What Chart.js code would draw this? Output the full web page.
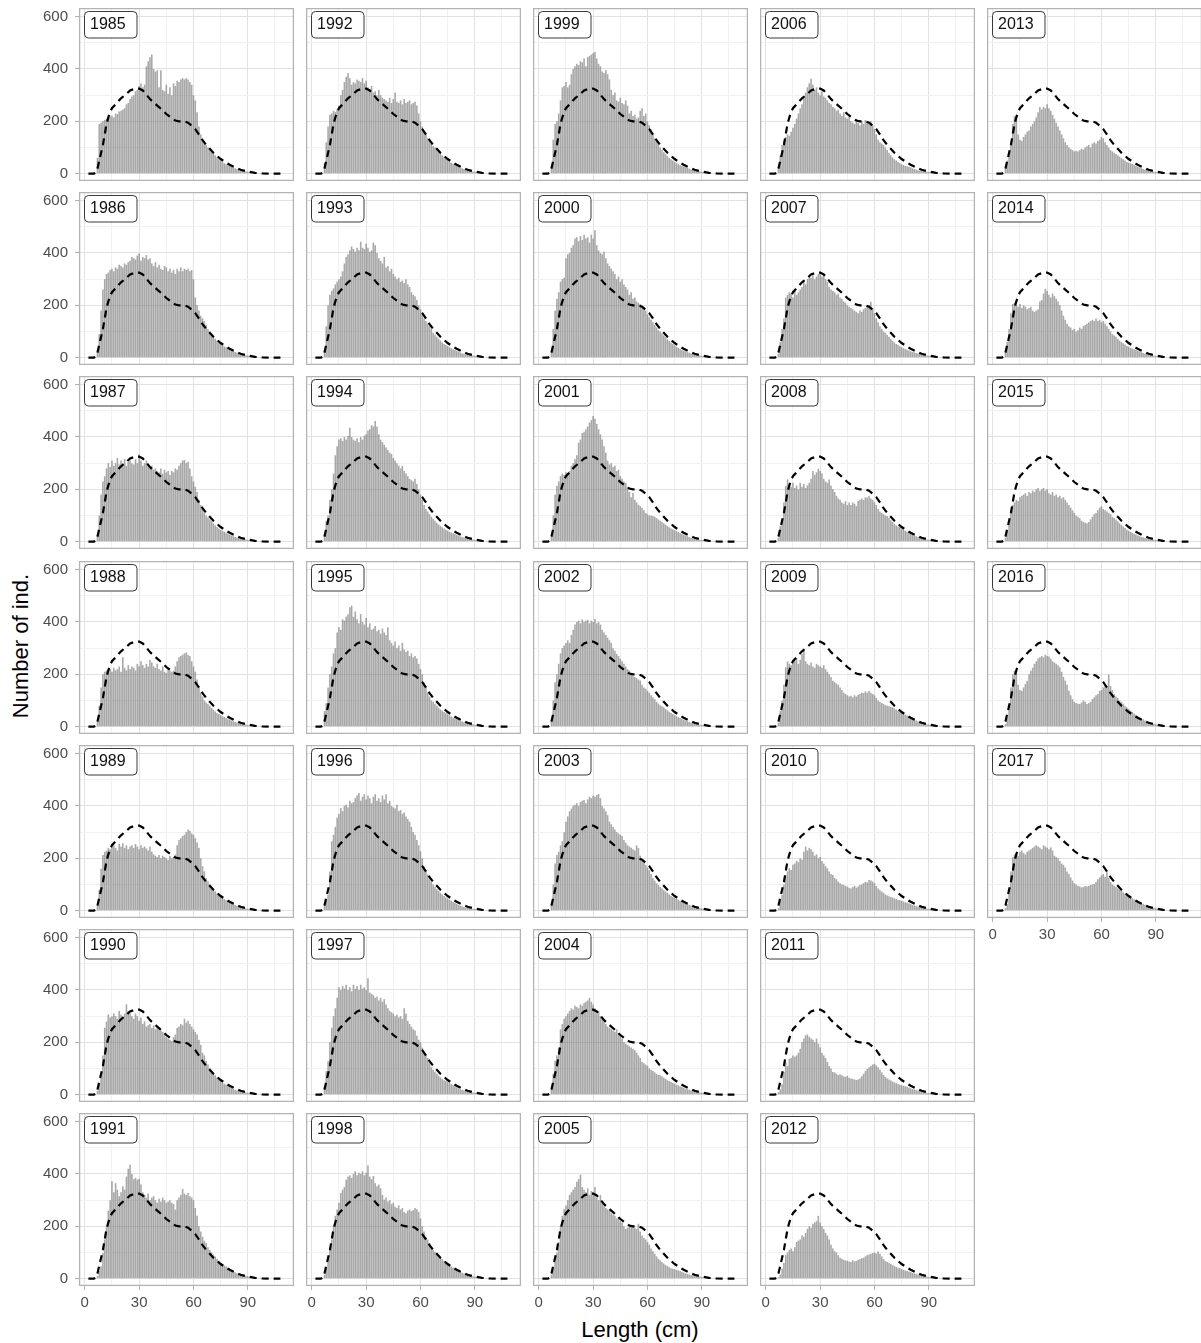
<!DOCTYPE html>
<html>
<head>
<meta charset="utf-8">
<script src="https://cdn.jsdelivr.net/npm/chart.js@4.4.1/dist/chart.umd.min.js"></script>
<style>
  body { margin: 0; background: #fff; }
  #page { position: relative; width: 1201px; height: 1343px; overflow: hidden; font-family: "Liberation Sans", Arial, sans-serif; }
  .panel { position: absolute; }
  .axis-title { position: absolute; color: #000; font-size: 22px; white-space: nowrap; transform: translate(-50%, -50%); }
  #ytitle { left: 21px; top: 646px; transform: translate(-50%, -50%) rotate(-90deg); }
  #xtitle { left: 640px; top: 1330px; }
</style>
</head>
<body>
<div id="page">
  <div id="ytitle" class="axis-title">Number of ind.</div>
  <div id="xtitle" class="axis-title">Length (cm)</div>
</div>
<script>
// ---- data -------------------------------------------------------------
// length bins (cm), one bar per cm
const binLength = [
  7,8,9,10,11,12,13,14,15,16,17,18,19,20,21,22,23,24,25,26,
  27,28,29,30,31,32,33,34,35,36,37,38,39,40,41,42,43,44,45,46,
  47,48,49,50,51,52,53,54,55,56,57,58,59,60,61,62,63,64,65,66,
  67,68,69,70,71,72,73,74,75,76,77,78,79,80,81,82,83,84,85,86,
  87,88,89,90,91,92,93,94,95,96,97,98,99,100
];

// reference distribution (dashed line), same in every panel
const refLength = [2,5,6,7,8,9,10,11,12,13,14,15,17,20,23,25,28,30,32,34,36,38,40,43,45,48,50,52,55,57,59,61,63,65,67,69,71,73,75,78,80,83,86,90,94,98,102,108];
const refCount  = [0,0,3,20,50,80,110,150,190,215,235,250,265,288,305,318,325,325,318,302,285,272,260,242,228,212,203,200,200,195,183,170,150,128,110,95,80,68,56,42,34,24,15,8,3,1,0,0];

const n1985 = [60,190,195,200,205,210,215,218,222,215, 230,228,238,240,245,250,265,270,285,295,
  300,315,320,335,345,330,340,410,430,445, 455,400,390,395,330,395,320,315,340,305,
  330,300,345,335,355,350,360,365,360,365, 360,350,340,300,280,235,180,150,130,120,
  110,100,92,85,78,70,62,55,50,45, 40,36,32,30,27,24,21,18,16,14, 12,10,9,8,6,5,4,4,3,2, 2,1,1,1];
const n1986 = [20,90,180,260,300,320,325,335,340,330, 345,340,355,350,345,360,355,365,370,385,
  380,375,390,398,370,385,380,392,375,380, 360,350,365,345,355,340,335,350,345,330,
  340,325,335,320,340,330,345,330,340,335, 340,330,335,300,230,200,180,160,150,140,
  125,110,100,90,80,72,65,58,52,47, 43,40,36,32,29,25,22,19,16,14, 12,10,9,8,7,5,4,3,3,2, 2,1,1,1];
const n1987 = [25,100,180,230,250,280,300,285,310,290, 300,320,295,310,300,315,290,305,310,300,
  295,315,300,333,310,290,300,310,295,285, 290,275,280,270,265,280,260,275,265,270,
  255,270,265,280,275,290,300,310,312,300, 305,280,250,230,210,190,160,140,125,110,
  100,92,85,78,70,62,56,50,45,42, 38,34,30,27,24,21,18,16,14,12, 10,9,8,6,5,4,4,3,2,2, 1,1,1,0];
const n1988 = [20,80,150,200,210,215,205,220,210,225, 215,220,230,210,265,225,215,235,220,230,
  225,215,240,230,250,235,225,240,230,255, 245,230,225,240,220,215,230,210,205,220,
  215,210,214,230,250,265,270,275,280,284, 275,270,250,230,210,180,150,130,115,100,
  92,87,80,72,65,58,52,48,44,40, 37,33,30,27,24,21,18,16,14,12, 10,9,8,6,5,4,4,3,2,2, 1,1,1,0];
const n1989 = [20,80,160,213,225,230,240,235,245,250, 240,230,255,245,258,240,250,235,245,250,
  240,255,245,235,250,240,245,238,230,245, 225,215,210,205,213,200,210,205,200,195,
  210,200,205,215,250,270,277,285,290,300, 310,305,295,290,277,260,240,200,170,150,
  125,112,100,90,82,74,66,60,55,50, 45,40,36,32,28,25,22,19,16,14, 12,10,8,7,6,5,4,3,2,2, 1,1,1,0];
const n1990 = [15,40,78,150,256,280,307,295,300,310, 300,290,320,305,300,310,345,320,310,300,
  290,310,300,282,295,270,280,260,265,270, 255,265,250,260,255,245,240,230,220,215,
  210,205,220,230,255,260,270,265,290,275, 282,270,260,250,240,230,210,190,160,150,
  130,115,100,90,82,74,66,58,52,46, 42,38,34,30,26,22,19,16,14,12, 10,9,8,7,6,5,4,3,2,2, 1,1,1,0];
const n1991 = [10,30,47,98,150,200,260,300,372,330, 365,340,315,330,353,340,390,420,435,400,
  380,385,378,382,360,330,320,310,325,300, 310,315,300,290,305,295,310,300,290,295,
  300,290,285,264,300,310,320,343,325,320, 327,315,310,300,270,240,200,180,160,145,
  136,120,110,100,92,85,75,68,60,54, 50,47,42,38,33,29,25,21,18,15, 15,13,11,9,7,5,4,3,2,2, 1,1,1,0];
const n1992 = [40,120,180,225,230,240,235,245,260,300, 320,350,370,385,365,340,350,345,360,355,
  350,365,345,355,330,320,335,310,315,300, 320,300,290,285,280,275,290,270,285,310,
  275,270,280,265,285,270,275,280,265,270, 275,260,230,200,180,165,150,135,125,115,
  105,100,92,85,78,70,65,58,52,46, 42,38,34,30,27,24,21,18,15,13, 11,9,8,7,6,5,4,3,3,2, 2,1,1,1];
const n1993 = [30,120,200,240,255,265,280,290,300,310, 330,360,385,395,410,425,415,405,420,410,
  443,420,415,435,420,405,410,440,430,400, 380,370,360,385,345,350,330,340,320,310,
  300,305,290,295,285,300,280,270,250,240, 235,220,200,185,170,150,140,130,120,110,
  95,88,80,72,65,58,52,48,44,40, 36,32,29,26,23,20,17,15,13,12, 10,9,8,6,5,4,4,3,2,2, 1,1,1,0];
const n1994 = [30,80,100,160,200,260,330,365,390,395, 385,400,390,405,435,400,390,385,395,380,
  400,390,405,410,425,430,445,440,461,440, 410,390,380,370,360,350,340,335,320,310,
  300,290,280,290,270,260,250,240,235,230, 240,220,200,180,160,140,125,115,105,95,
  88,80,72,66,60,55,50,46,42,38, 35,32,29,26,23,20,18,16,14,12, 10,9,8,6,5,4,4,3,2,2, 1,1,1,0];
const n1995 = [60,90,150,200,230,280,300,360,380,370, 410,405,420,430,456,462,420,440,410,395,
  430,400,390,415,380,395,370,375,385,365, 370,355,375,360,350,380,330,320,310,325,
  300,310,290,320,295,285,290,270,280,265, 270,260,240,220,200,170,150,130,115,100,
  95,88,80,72,66,61,56,52,47,43, 39,35,32,29,26,23,20,18,16,14, 12,10,9,7,6,5,4,3,3,2, 2,1,1,0];
const n1996 = [20,40,61,150,265,290,320,355,370,392, 380,400,405,395,420,410,415,430,440,450,
  420,435,445,425,440,430,410,435,445,420, 430,415,440,425,445,410,420,400,395,390,
  405,380,385,370,375,360,350,340,320,300, 290,270,250,227,200,170,150,138,120,110,
  100,90,82,75,68,62,56,50,46,42, 38,34,30,26,22,19,16,14,12,10, 9,8,7,6,5,4,3,3,2,2, 1,1,1,0];
const n1997 = [30,90,128,200,256,300,330,370,410,400, 415,405,420,400,410,395,420,405,415,400,
  420,405,410,400,445,390,385,380,370,375, 360,370,355,365,345,330,320,315,310,300,
  305,295,300,290,330,310,282,270,260,250, 245,225,210,200,180,165,150,141,120,105,
  95,88,80,72,66,60,55,52,48,44, 40,36,32,28,24,21,18,16,14,12, 10,9,8,7,6,5,4,3,2,2, 1,1,1,0];
const n1998 = [15,40,80,111,150,200,240,264,290,327, 340,350,378,390,395,385,400,410,395,405,
  400,410,395,405,432,390,380,392,365,353, 360,345,320,302,310,295,300,285,290,275,
  270,280,264,270,255,250,260,264,258,262, 270,265,255,230,200,180,160,149,135,120,
  110,103,98,90,82,75,68,60,54,50, 47,43,38,34,30,27,23,20,17,15, 13,11,9,8,6,5,4,3,2,2, 1,1,1,0];
const n1999 = [30,130,190,200,230,280,330,335,350,330, 340,380,400,410,420,415,430,425,440,410,
  445,450,455,460,465,440,420,410,390,385, 395,380,360,320,300,310,280,275,290,270,
  265,280,260,230,240,220,225,210,215,240, 250,220,230,200,185,170,150,135,125,115,
  100,90,82,75,68,60,55,50,45,40, 36,33,30,28,25,22,19,16,14,12, 11,10,8,7,6,5,4,3,3,2, 2,1,1,1];
const n2000 = [25,110,180,225,250,290,300,305,380,395, 400,420,430,455,460,445,465,450,470,455,
  460,440,470,455,487,430,410,400,395,405, 380,360,350,340,330,320,300,310,290,300,
  280,270,260,240,250,225,230,215,210,205, 200,195,180,165,155,145,135,125,115,105,
  100,92,85,78,70,64,58,52,47,42, 38,34,30,27,24,21,19,16,14,12, 10,9,8,6,5,4,4,3,2,2, 1,1,1,0];
const n2001 = [20,100,180,213,230,250,260,255,265,260, 270,290,300,315,330,378,390,415,420,430,
  440,455,465,480,470,450,430,410,390,365, 340,310,295,300,285,290,270,275,250,240,
  230,225,210,190,170,187,160,150,140,136, 130,120,110,105,100,100,98,95,90,85,
  80,75,70,65,60,55,50,47,44,40, 37,33,30,27,24,21,18,15,13,11, 10,8,7,6,5,4,3,3,2,2, 1,1,1,0];
const n2002 = [25,100,170,200,240,280,300,310,320,330, 320,350,370,390,400,405,395,410,400,405,
  408,395,405,400,411,395,400,390,370,360, 350,340,330,320,300,290,278,270,260,250,
  240,230,220,215,200,195,190,185,180,176, 160,150,145,137,130,120,112,105,95,88,
  82,78,74,68,62,57,52,48,44,40, 36,33,30,27,24,21,18,16,14,12, 10,9,7,6,5,4,3,3,2,2, 1,1,1,0];
const n2003 = [25,100,180,213,225,250,265,300,340,360, 380,390,400,405,410,400,415,420,423,410,
  425,435,430,440,435,442,446,430,400,390, 380,365,340,330,320,310,300,295,290,285,
  270,260,250,245,240,235,230,250,240,210, 190,185,175,165,155,140,125,115,105,98,
  90,85,78,73,68,62,57,52,48,45, 42,38,35,31,28,25,22,20,18,16, 14,12,10,8,7,5,4,3,2,2, 1,1,1,0];
const n2004 = [20,80,130,150,180,250,270,290,300,310, 320,330,325,340,335,330,345,340,350,355,
  360,370,355,345,330,310,320,300,290,280, 270,260,255,250,245,240,250,235,230,215,
  200,195,190,185,180,175,170,160,150,140, 125,120,115,110,100,95,90,85,80,75,
  74,70,65,60,55,52,48,45,42,38, 35,32,29,26,23,21,19,17,15,13, 11,9,8,7,6,5,4,3,2,2, 1,1,1,0];
const n2005 = [15,40,64,100,140,200,240,265,280,300, 320,330,340,350,370,380,397,350,340,330,
  345,320,335,330,350,310,300,320,290,280, 270,265,260,250,245,240,230,235,220,215,
  200,190,195,205,200,204,195,190,210,180, 165,155,150,140,130,115,105,95,85,76,
  70,64,58,52,48,44,40,38,36,34, 32,29,26,23,20,18,16,14,13,12, 10,9,8,6,5,4,3,3,2,2, 1,1,1,0];
const n2006 = [20,70,110,125,140,150,145,160,175,190, 210,230,250,265,290,310,330,345,363,340,
  320,330,310,300,315,295,290,280,270,265, 255,250,240,245,230,220,235,215,210,225,
  200,195,190,210,195,185,200,190,205,195, 190,200,185,170,150,130,120,115,110,100,
  90,80,70,62,55,50,45,40,36,33, 30,28,26,24,20,18,15,13,11,10, 9,8,7,6,5,4,3,3,2,2, 1,1,1,0];
const n2007 = [15,60,110,150,230,240,250,245,230,260, 240,250,260,270,290,280,300,310,305,315,
  300,310,320,328,310,315,300,290,270,260, 255,250,240,245,230,225,215,210,200,195,
  190,185,180,175,170,180,175,185,190,195, 200,214,190,170,150,135,120,110,100,95,
  87,80,72,65,58,52,48,44,40,36, 33,30,27,24,22,20,18,16,14,12, 10,9,8,7,6,5,4,3,2,2, 1,1,1,0];
const n2008 = [15,60,85,150,213,238,220,210,225,205, 215,200,225,210,220,205,215,225,240,270,
  255,265,279,270,260,240,230,225,238,215, 200,190,175,165,160,150,145,155,140,150,
  140,150,145,136,155,160,165,160,170,168, 175,165,160,150,140,125,115,110,105,100,
  98,90,82,75,68,62,58,55,50,45, 42,38,34,30,27,24,21,18,15,13, 11,9,8,7,6,5,4,3,2,2, 1,1,1,0];
const n2009 = [15,60,100,160,227,250,240,235,245,250, 260,240,255,278,290,250,240,235,245,230,
  225,240,235,230,225,235,220,210,200,190, 175,170,165,160,150,140,130,125,120,115,
  118,112,120,115,122,125,130,128,135,130, 137,130,125,120,110,100,95,90,87,82,
  80,78,75,74,70,65,60,55,52,48, 46,44,40,36,32,28,24,20,17,15, 13,11,9,8,6,5,4,3,2,2, 1,1,1,0];
const n2010 = [10,40,60,100,136,150,162,155,175,180, 190,185,200,195,225,245,230,240,235,225,
  210,215,200,205,190,180,170,162,150,140, 136,125,120,111,105,100,98,95,92,88,
  85,90,95,88,92,98,100,105,110,108, 117,115,111,105,95,85,78,73,68,62,
  58,55,52,50,47,44,42,40,38,35, 32,30,28,25,22,20,18,16,15,13, 11,9,8,7,6,5,4,3,2,2, 1,1,1,0];
const n2011 = [10,20,40,87,125,110,137,140,150,145, 150,160,175,200,215,227,230,220,215,210,
  200,214,195,180,160,150,140,125,110,100, 87,85,80,75,78,74,70,68,72,65,
  62,60,58,56,58,62,70,80,90,98, 105,110,115,118,112,105,95,85,75,68,
  62,58,54,50,47,44,41,38,36,34, 32,30,27,24,22,20,18,16,14,12, 10,9,7,6,5,4,3,3,2,2, 1,1,1,0];
const n2012 = [5,15,38,60,90,100,110,115,105,120, 140,145,150,165,160,175,190,200,195,210,
  215,220,240,215,200,190,175,165,150,130, 115,105,100,90,80,76,72,70,68,66,
  64,70,66,68,72,75,78,80,85,90, 92,95,98,100,96,104,95,85,75,68,
  64,60,56,52,48,45,42,40,37,34, 31,29,27,25,22,20,18,16,14,12, 10,9,8,6,5,4,3,3,2,2, 1,1,1,0];
const n2013 = [20,50,80,120,190,220,225,150,130,125, 140,150,160,165,180,190,200,215,235,255,
  245,255,250,265,250,240,225,210,195,180, 165,150,135,120,110,100,95,90,85,88,
  85,90,95,92,100,105,110,100,115,120, 115,125,130,140,135,120,110,100,90,85,
  80,75,70,65,60,55,50,45,42,40, 37,34,30,27,24,21,18,16,14,12, 10,8,7,6,5,4,3,3,2,2, 1,1,1,0];
const n2014 = [20,60,110,170,205,210,200,195,205,190, 200,195,185,190,195,180,175,180,185,215,
  220,245,263,255,240,230,245,235,225,215, 200,180,160,145,130,120,115,105,110,100,
  105,115,110,120,125,130,135,140,145,140, 150,140,145,135,140,130,120,110,100,90,
  85,80,72,65,60,55,50,45,42,38, 35,32,30,27,24,21,18,16,14,12, 10,9,7,6,5,4,3,3,2,2, 1,1,1,0];
const n2015 = [15,40,80,120,140,150,160,155,170,175, 180,185,175,190,185,195,190,200,205,195,
  200,205,195,200,185,180,190,175,180,170, 175,165,170,160,150,140,130,120,110,100,
  95,90,80,75,72,70,75,85,95,105, 110,120,130,135,125,120,115,110,105,95,
  90,85,78,70,64,58,52,46,42,38, 34,30,27,24,21,18,16,14,12,10, 9,8,7,6,5,4,3,3,2,2, 1,1,1,0];
const n2016 = [10,36,80,150,200,214,205,160,140,137, 150,163,175,200,214,225,240,250,260,265,
  270,265,275,270,268,260,250,245,240,235, 227,210,190,176,160,137,120,105,95,90,
  88,87,92,100,95,87,90,95,105,112, 120,125,137,140,150,157,150,199,155,140,
  125,115,110,100,95,88,80,74,68,62, 56,50,45,40,36,32,28,24,20,17, 15,13,11,9,7,5,4,3,2,2, 1,1,1,0];
const n2017 = [10,25,80,150,204,215,220,210,225,230, 220,215,225,230,235,240,245,250,245,240,
  235,250,245,240,235,242,230,210,205,200, 190,180,175,165,150,140,127,115,105,100,
  95,92,89,90,94,92,95,98,100,102, 110,120,127,135,140,130,147,125,110,100,
  95,90,85,80,76,70,65,60,55,51, 48,44,40,36,32,29,26,23,20,17, 15,13,11,9,7,5,4,3,2,2, 1,1,1,0];

const years = [1985,1986,1987,1988,1989,1990,1991,1992,1993,1994,1995,1996,1997,1998,
  1999,2000,2001,2002,2003,2004,2005,2006,2007,2008,2009,2010,2011,2012,2013,2014,2015,2016,2017];
const counts = [n1985,n1986,n1987,n1988,n1989,n1990,n1991,n1992,n1993,n1994,n1995,n1996,n1997,n1998,
  n1999,n2000,n2001,n2002,n2003,n2004,n2005,n2006,n2007,n2008,n2009,n2010,n2011,n2012,n2013,n2014,n2015,n2016,n2017];

// axis ticks
const xLabelTicks = [0, 30, 60, 90];
const xMinorTicks = [15, 45, 75, 105];
const yLabelTicks = [0, 200, 400, 600];
const yMinorTicks = [100, 300, 500];

// ---- layout -----------------------------------------------------------
const FONT = '"Liberation Sans", Arial, sans-serif';
const PANEL_W = 215, PANEL_H = 173;
const COL_X = [79, 306, 533, 760, 987];
const ROW_Y = [8, 192, 376, 561, 745, 929, 1113];
const N_ROWS = 7;
const Y_AXIS_W = 62, X_AXIS_H = 28;
const X_MIN = -3.2, X_MAX = 115.5, Y_MIN = -28, Y_MAX = 633;

const MAJOR = '#e2e2e2', MINOR = '#f1f1f1', TICK = '#b3b3b3';

// kill the extra room chart.js keeps for overflowing tick labels
function noPadding(s) {
  s.paddingTop = 0; s.paddingBottom = 0; s.paddingLeft = 0; s.paddingRight = 0;
}

const panelDecor = {
  id: 'panelDecor',
  afterDraw(chart, args, opts) {
    const { ctx, chartArea: a } = chart;
    ctx.save();
    // panel border
    ctx.strokeStyle = '#b3b3b3';
    ctx.lineWidth = 1.3;
    ctx.strokeRect(a.left + 0.6, a.top + 0.6, a.width - 1.2, a.height - 1.2);
    // year label box
    const bx = a.left + 5.5, by = a.top + 3.5, bw = 52.5, bh = 26.5;
    ctx.beginPath();
    ctx.roundRect(bx, by, bw, bh, 4);
    ctx.fillStyle = '#fff';
    ctx.fill();
    ctx.strokeStyle = '#3a3a3a';
    ctx.lineWidth = 1;
    ctx.stroke();
    ctx.fillStyle = '#111';
    ctx.font = '16px ' + FONT;
    ctx.textBaseline = 'alphabetic';
    ctx.fillText(opts.year, bx + 5.5, by + 17);
    ctx.restore();
  }
};

const page = document.getElementById('page');

years.forEach((year, i) => {
  const col = Math.floor(i / N_ROWS);
  const row = i % N_ROWS;
  const firstCol = col === 0;
  const isLast = i === years.length - 1 || row === N_ROWS - 1;
  const left = firstCol ? Y_AXIS_W : 0;
  const bottom = isLast ? X_AXIS_H : 0;

  const canvas = document.createElement('canvas');
  canvas.className = 'panel';
  canvas.width = PANEL_W + left;
  canvas.height = PANEL_H + bottom;
  canvas.style.left = (COL_X[col] - left) + 'px';
  canvas.style.top = ROW_Y[row] + 'px';
  canvas.style.width = canvas.width + 'px';
  canvas.style.height = canvas.height + 'px';
  page.appendChild(canvas);

  const bars = binLength.map((x, k) => ({ x: x, y: counts[i][k] }));
  const ref = refLength.map((x, k) => ({ x: x, y: refCount[k] }));

  new Chart(canvas, {
    type: 'bar',
    data: {
      datasets: [
        {
          type: 'line',
          data: ref,
          borderColor: '#000',
          borderWidth: 2.2,
          borderDash: [7, 5],
          pointRadius: 0,
          tension: 0,
          order: 0
        },
        {
          type: 'bar',
          data: bars,
          backgroundColor: 'rgba(110,110,110,0.6)',
          borderWidth: 0,
          barPercentage: 0.88,
          categoryPercentage: 1,
          order: 1
        }
      ]
    },
    options: {
      responsive: false,
      animation: false,
      events: [],
      layout: { padding: 0 },
      plugins: { legend: { display: false }, tooltip: { enabled: false }, panelDecor: { year: String(year) } },
      scales: {
        x: {
          type: 'linear',
          min: X_MIN, max: X_MAX,
          offset: false,
          afterBuildTicks: s => { s.ticks = xLabelTicks.concat(xMinorTicks).sort((a, b) => a - b).map(v => ({ value: v })); },
          afterFit: s => { s.height = bottom; noPadding(s); },
          border: { display: false },
          grid: {
            offset: false,
            color: c => xLabelTicks.includes(c.tick.value) ? MAJOR : MINOR,
            lineWidth: 1,
            drawTicks: isLast,
            tickLength: 4,
            tickColor: c => xLabelTicks.includes(c.tick.value) ? TICK : 'rgba(0,0,0,0)'
          },
          ticks: {
            display: isLast,
            autoSkip: false,
            maxRotation: 0,
            padding: 4,
            color: '#4d4d4d',
            font: { family: FONT, size: 15 },
            callback: v => xLabelTicks.includes(v) ? String(v) : ''
          }
        },
        y: {
          type: 'linear',
          min: Y_MIN, max: Y_MAX,
          afterBuildTicks: s => { s.ticks = yLabelTicks.concat(yMinorTicks).sort((a, b) => a - b).map(v => ({ value: v })); },
          afterFit: s => { s.width = left; noPadding(s); },
          border: { display: false },
          grid: {
            color: c => yLabelTicks.includes(c.tick.value) ? MAJOR : MINOR,
            lineWidth: 1,
            drawTicks: firstCol,
            tickLength: 4,
            tickColor: c => yLabelTicks.includes(c.tick.value) ? TICK : 'rgba(0,0,0,0)'
          },
          ticks: {
            display: firstCol,
            autoSkip: false,
            padding: 7,
            color: '#4d4d4d',
            font: { family: FONT, size: 15 },
            callback: v => yLabelTicks.includes(v) ? String(v) : ''
          }
        }
      }
    },
    plugins: [panelDecor]
  });
});
</script>
</body>
</html>
